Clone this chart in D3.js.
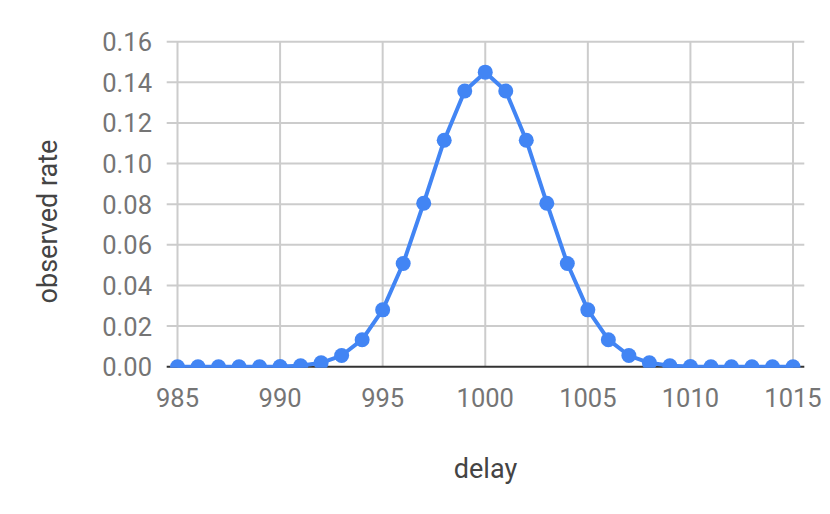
<!DOCTYPE html>
<html>
<head>
<meta charset="utf-8">
<script src="https://cdn.jsdelivr.net/npm/d3@7"></script>
<style>
  html, body { margin: 0; padding: 0; background: #fff; }
  svg { display: block; font-family: Roboto, "Noto Sans", sans-serif; }
</style>
</head>
<body>
<svg id="chart" width="830" height="514"></svg>
<script>
const delays = [985, 986, 987, 988, 989, 990, 991, 992, 993, 994, 995, 996, 997, 998, 999, 1000,
                1001, 1002, 1003, 1004, 1005, 1006, 1007, 1008, 1009, 1010, 1011, 1012, 1013, 1014, 1015];
const rates = [0.0000, 0.0000, 0.0000, 0.0000, 0.0000, 0.0001, 0.0005, 0.0019, 0.0055, 0.0133,
               0.0280, 0.0508, 0.0805, 0.1115, 0.1357, 0.1450, 0.1357, 0.1115, 0.0805, 0.0508,
               0.0280, 0.0133, 0.0055, 0.0019, 0.0005, 0.0001, 0.0000, 0.0000, 0.0000, 0.0000, 0.0000];
const xTicks = [985, 990, 995, 1000, 1005, 1010, 1015];
const yTicks = [0, 0.02, 0.04, 0.06, 0.08, 0.10, 0.12, 0.14, 0.16];
const xTitle = "delay";
const yTitle = "observed rate";

const svg = d3.select("#chart");
const area = { left: 166.7, right: 804.3, top: 41.7, bottom: 366.7 };

const x = d3.scaleLinear().domain([985, 1015]).range([177.5, 793]);
const y = d3.scaleLinear().domain([0, 0.16]).range([area.bottom, area.top]);

// horizontal gridlines
svg.append("g").selectAll("line").data(yTicks.filter(d => d !== 0)).join("line")
  .attr("x1", area.left).attr("x2", area.right)
  .attr("y1", d => y(d)).attr("y2", d => y(d))
  .attr("stroke", "#cccccc").attr("stroke-width", 2);

// vertical gridlines
svg.append("g").selectAll("line").data(xTicks).join("line")
  .attr("x1", d => x(d)).attr("x2", d => x(d))
  .attr("y1", area.top).attr("y2", area.bottom)
  .attr("stroke", "#cccccc").attr("stroke-width", 2);

// baseline
svg.append("line")
  .attr("x1", area.left).attr("x2", area.right)
  .attr("y1", y(0)).attr("y2", y(0))
  .attr("stroke", "#333333").attr("stroke-width", 2);

// y tick labels
svg.append("g").selectAll("text").data(yTicks).join("text")
  .attr("x", 152).attr("y", d => y(d) + 9.5)
  .attr("text-anchor", "end")
  .attr("font-size", 25.5).attr("fill", "#757575")
  .text(d => d3.format(".2f")(d));

// x tick labels
svg.append("g").selectAll("text").data(xTicks).join("text")
  .attr("x", d => x(d)).attr("y", 407)
  .attr("text-anchor", "middle")
  .attr("font-size", 25.5).attr("fill", "#757575")
  .text(d => d);

// axis titles
svg.append("text")
  .attr("x", (area.left + area.right) / 2).attr("y", 478)
  .attr("text-anchor", "middle")
  .attr("font-size", 27).attr("fill", "#444444")
  .text(xTitle);

svg.append("text")
  .attr("transform", "translate(57," + 221.5 + ") rotate(-90)")
  .attr("text-anchor", "middle")
  .attr("font-size", 27).attr("fill", "#444444")
  .text(yTitle);

// series
const pts = delays.map((d, i) => ({ x: d, y: rates[i] }));
const line = d3.line().x(d => x(d.x)).y(d => y(d.y));

const clip = svg.append("defs").append("clipPath").attr("id", "clip")
  .append("rect").attr("x", 0).attr("y", 0).attr("width", 830).attr("height", area.bottom + 1);

const series = svg.append("g").attr("clip-path", "url(#clip)");
series.append("path").datum(pts)
  .attr("d", line)
  .attr("fill", "none").attr("stroke", "#4285f4").attr("stroke-width", 4)
  .attr("stroke-linejoin", "round");

series.selectAll("circle").data(pts).join("circle")
  .attr("cx", d => x(d.x)).attr("cy", d => y(d.y)).attr("r", 7.5)
  .attr("fill", "#4285f4");
</script>
</body>
</html>
